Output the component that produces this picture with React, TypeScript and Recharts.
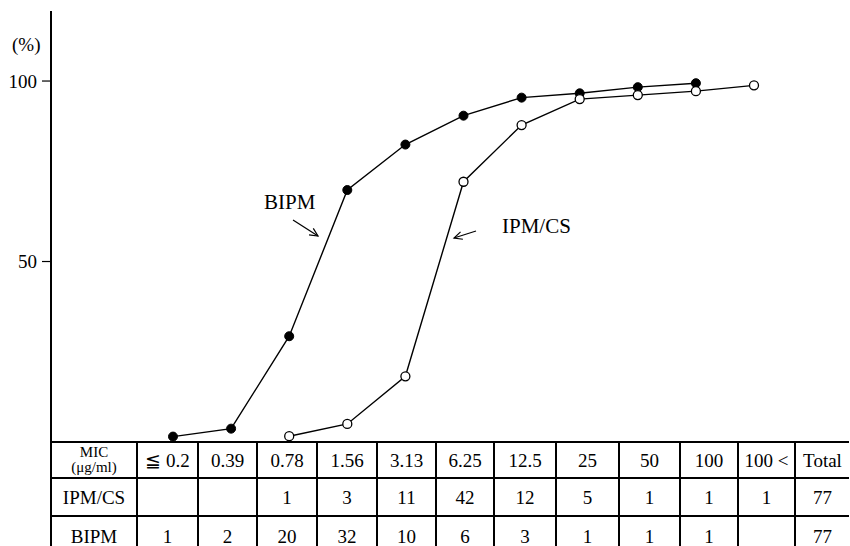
import { LineChart, Line, XAxis, YAxis } from 'recharts';

// MIC categories (µg/ml) and the cumulative %
const micLabels = ['≦ 0.2', '0.39', '0.78', '1.56', '3.13', '6.25', '12.5', '25', '50', '100', '100 <'];
const bipmCum = [1.5, 3.7, 29.3, 69.8, 82.4, 90.4, 95.4, 96.6, 98.3, 99.4, null];
const ipmcsCum = [null, null, 1.6, 5.0, 18.2, 72.1, 87.8, 95.0, 96.1, 97.2, 98.8];

// number of strains per MIC, as printed in the table
const ipmcsCounts = ['', '', '1', '3', '11', '42', '12', '5', '1', '1', '1'];
const bipmCounts = ['1', '2', '20', '32', '10', '6', '3', '1', '1', '1', ''];
const totals = { ipmcs: '77', bipm: '77' };

const yTicks = [50, 100];

const data = micLabels.map((mic, i) => ({
  mic,
  bipm: bipmCum[i],
  ipmcs: ipmcsCum[i],
}));

// table layout
const colWidths = [86, 61, 59, 60, 60, 59, 58, 62, 63, 61, 58, 57, 55];
const rowTops = [441, 477, 515];
const rowHeights = [36, 38, 40];
const tableLeft = 50;

const serif = '"Liberation Serif", "Times New Roman", serif';

const Cell = ({ left, top, width, height, children }: any) => (
  <div
    style={{
      position: 'absolute',
      left,
      top,
      width,
      height,
      boxSizing: 'border-box',
      borderLeft: '2px solid #000',
      borderTop: '2px solid #000',
      display: 'flex',
      alignItems: 'center',
      justifyContent: 'center',
      fontSize: 19,
      lineHeight: 1,
      color: '#000',
      whiteSpace: 'nowrap',
    }}
  >
    {children}
  </div>
);

const Table = () => {
  const lefts: number[] = [];
  let x = tableLeft;
  colWidths.forEach((w) => {
    lefts.push(x);
    x += w;
  });
  const rows = [
    [
      <div key="h" style={{ textAlign: 'center', fontSize: 15, lineHeight: '15px' }}>
        MIC
        <br />
        (μg/ml)
      </div>,
      ...micLabels,
      'Total',
    ],
    ['IPM/CS', ...ipmcsCounts, totals.ipmcs],
    ['BIPM', ...bipmCounts, totals.bipm],
  ];
  return (
    <>
      {rows.map((row, r) =>
        row.map((content, c) => (
          <Cell
            key={`${r}-${c}`}
            left={lefts[c]}
            top={rowTops[r]}
            width={colWidths[c]}
            height={rowHeights[r]}
          >
            {content}
          </Cell>
        ))
      )}
    </>
  );
};

const Arrow = ({ x1, y1, x2, y2 }: any) => {
  const a = Math.atan2(y2 - y1, x2 - x1);
  const h = 9;
  const s = 0.45;
  const p1 = [x2 - h * Math.cos(a - s), y2 - h * Math.sin(a - s)];
  const p2 = [x2 - h * Math.cos(a + s), y2 - h * Math.sin(a + s)];
  return (
    <g stroke="#000" strokeWidth={1.2} fill="none">
      <line x1={x1} y1={y1} x2={x2} y2={y2} />
      <polyline points={`${p1[0]},${p1[1]} ${x2},${y2} ${p2[0]},${p2[1]}`} />
    </g>
  );
};

export default function App() {
  return (
    <div
      style={{
        position: 'absolute',
        left: 0,
        top: 0,
        width: 850,
        height: 546,
        overflow: 'hidden',
        background: '#fff',
        fontFamily: serif,
      }}
    >
      <div style={{ position: 'absolute', left: 0, top: 0 }}>
        <LineChart
          width={850}
          height={546}
          data={data}
          margin={{ top: 11, right: 0, bottom: 104, left: 0 }}
        >
          <XAxis dataKey="mic" hide padding={{ left: 122, right: 96 }} />
          <YAxis
            width={51}
            domain={[0, 119.4]}
            ticks={yTicks}
            allowDataOverflow
            tickSize={9}
            tickMargin={5}
            axisLine={{ stroke: '#000', strokeWidth: 2 }}
            tickLine={{ stroke: '#000', strokeWidth: 1.2 }}
            tick={{ fill: '#000', fontSize: 19, fontFamily: serif }}
          />
          <Line
            dataKey="bipm"
            stroke="#000"
            strokeWidth={1.4}
            isAnimationActive={false}
            dot={{ r: 4.5, fill: '#000', stroke: '#000', strokeWidth: 1 }}
            activeDot={false}
          />
          <Line
            dataKey="ipmcs"
            stroke="#000"
            strokeWidth={1.4}
            isAnimationActive={false}
            dot={{ r: 4.5, fill: '#fff', stroke: '#000', strokeWidth: 1.3 }}
            activeDot={false}
          />
        </LineChart>
      </div>

      <Table />

      <div style={{ position: 'absolute', left: 12, top: 34, fontSize: 19, lineHeight: '22px' }}>(%)</div>
      <div style={{ position: 'absolute', left: 264, top: 190, fontSize: 21, lineHeight: '24px' }}>BIPM</div>
      <div style={{ position: 'absolute', left: 502, top: 214, fontSize: 21, lineHeight: '24px' }}>IPM/CS</div>

      <svg
        width={850}
        height={546}
        style={{ position: 'absolute', left: 0, top: 0, pointerEvents: 'none' }}
      >
        <Arrow x1={293} y1={220} x2={318} y2={236} />
        <Arrow x1={476} y1={231} x2={454} y2={238} />
      </svg>
    </div>
  );
}
